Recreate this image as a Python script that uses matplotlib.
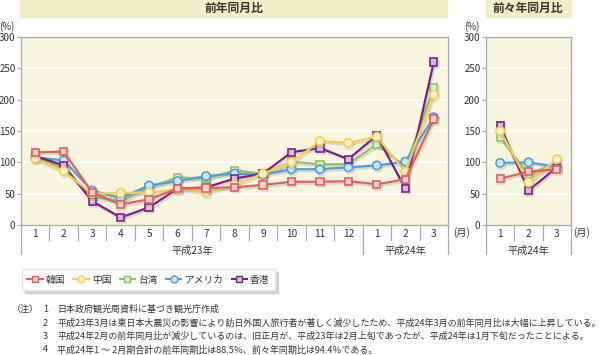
import matplotlib
matplotlib.use("Agg")
import matplotlib.pyplot as plt
import matplotlib.patheffects as pe
from matplotlib.lines import Line2D
from matplotlib.patches import Rectangle

plt.rcParams['font.family'] = ['Noto Sans CJK JP', 'DejaVu Sans']

# ---- data ----
months_left = ["1", "2", "3", "4", "5", "6", "7", "8", "9", "10", "11", "12", "1", "2", "3"]
months_right = ["1", "2", "3"]
series_names = ["韓国", "中国", "台湾", "アメリカ", "香港"]

korea = [116, 117, 52, 33, 41, 58, 59, 60, 64, 69, 69, 70, 65, 73, 169]
china = [106, 86, 50, 51, 52, 57, 52, 64, 82, 100, 134, 131, 141, 85, 208]
taiwan = [108, 90, 45, 38, 60, 76, 74, 87, 82, 101, 97, 97, 129, 93, 219]
america = [108, 103, 55, 43, 63, 70, 78, 82, 80, 89, 89, 92, 95, 101, 172]
hongkong = [110, 95, 38, 12, 28, 58, 60, 74, 82, 116, 123, 105, 143, 58, 260]

korea_r = [74, 85, 89]
china_r = [150, 68, 105]
taiwan_r = [140, 80, 100]
america_r = [99, 100, 93]
hongkong_r = [158, 55, 92]

yticks = [0, 50, 100, 150, 200, 250, 300]

colors = {"韓国": "#e0605e", "中国": "#f4d050", "台湾": "#90c264",
          "アメリカ": "#4b9fe0", "香港": "#7a1f88"}
faces = {"韓国": "#f7cfcf", "中国": "#fdf3c6", "台湾": "#dcefcb",
         "アメリカ": "#cfe5f8", "香港": "#d9b9df"}
markers = {"韓国": "s", "中国": "o", "台湾": "s", "アメリカ": "o", "香港": "s"}
msize = {"s": 5.2, "o": 6.0}

left_data = {"韓国": korea, "中国": china, "台湾": taiwan, "アメリカ": america, "香港": hongkong}
right_data = {"韓国": korea_r, "中国": china_r, "台湾": taiwan_r, "アメリカ": america_r, "香港": hongkong_r}
draw_order = ["台湾", "アメリカ", "香港", "中国", "韓国"]

W, H = 602, 355
fig = plt.figure(figsize=(W / 100, H / 100), dpi=100)

bg = "#f8f6de"
spine_c = "#a8a8a8"
txt_c = "#333333"

def px_axes(x0, x1, ytop, ybot):
    return fig.add_axes([x0 / W, 1 - ybot / H, (x1 - x0) / W, (ybot - ytop) / H])

def style_axes(ax, labels, long_bounds, year_labels):
    n = len(labels)
    ax.set_facecolor(bg)
    ax.set_xlim(-0.5, n - 0.5)
    ax.set_ylim(0, 300)
    ax.set_yticks(yticks)
    ax.set_yticklabels([str(v) for v in yticks], fontsize=7, color=txt_c)
    ax.tick_params(axis='y', length=3, color=spine_c, pad=1)
    ax.set_xticks(range(n))
    ax.set_xticklabels(labels, fontsize=7.3, color=txt_c)
    ax.tick_params(axis='x', length=0, pad=3)
    for s in ax.spines.values():
        s.set_color(spine_c)
        s.set_linewidth(0.9)
    for v in yticks[1:-1]:
        ax.axhline(v, color="white", lw=1.2, zorder=0.5)
    tr = ax.get_xaxis_transform()
    hax = ax.get_position().height * H
    short = -15 / hax
    long_ = -29 / hax
    for b in range(n + 1):
        xb = b - 0.5
        y2 = long_ if b in long_bounds else short
        ax.plot([xb, xb], [0, y2], transform=tr, color=spine_c, lw=0.9,
                clip_on=False, zorder=5)
    for (xc, text) in year_labels:
        ax.text(xc, -26 / hax, text, transform=tr, ha="center", va="center",
                fontsize=7.3, color=txt_c)

def plot_series(ax, data):
    for name in draw_order:
        vals = data[name]
        m = markers[name]
        ax.plot(range(len(vals)), vals, color=colors[name], lw=1.6,
                marker=m, markersize=msize[m], markerfacecolor=faces[name],
                markeredgecolor=colors[name], markeredgewidth=1.2, zorder=3,
                path_effects=[pe.SimpleLineShadow(offset=(1, -1.5), shadow_color="#888888", alpha=0.25),
                              pe.Normal()])

# left chart
ax1 = px_axes(21, 448, 37, 225)
style_axes(ax1, months_left, {0, 12, 15}, [(5.5, "平成23年"), (13, "平成24年")])
plot_series(ax1, left_data)

# right chart
ax2 = px_axes(486, 571, 37, 225)
style_axes(ax2, months_right, {0, 3}, [(1, "平成24年")])
plot_series(ax2, right_data)

# units
fig.text(7 / W, 1 - 27 / H, "(%)", fontsize=7, color=txt_c, ha="center", va="center")
fig.text(472 / W, 1 - 27 / H, "(%)", fontsize=7, color=txt_c, ha="center", va="center")
fig.text(462 / W, 1 - 233 / H, "(月)", fontsize=7.3, color=txt_c, ha="center", va="center")
fig.text(582 / W, 1 - 233 / H, "(月)", fontsize=7.3, color=txt_c, ha="center", va="center")

# title bands
band_c = "#f0eec6"
fig.patches.append(Rectangle((20 / W, 1 - 17 / H), (447 - 20) / W, 17 / H,
                             transform=fig.transFigure, color=band_c, zorder=0))
fig.patches.append(Rectangle((486 / W, 1 - 17 / H), (571 - 486) / W, 17 / H,
                             transform=fig.transFigure, color=band_c, zorder=0))
fig.text(234 / W, 1 - 8.5 / H, "前年同月比", fontsize=8.5, fontweight="bold",
         color=txt_c, ha="center", va="center")
fig.text(528 / W, 1 - 8.5 / H, "前々年同月比", fontsize=8.5, fontweight="bold",
         color=txt_c, ha="center", va="center")

# legend
handles = []
for name in series_names:
    m = markers[name]
    handles.append(Line2D([], [], color=colors[name], lw=1.5, marker=m,
                          markersize=msize[m] - 1.0, markerfacecolor=faces[name],
                          markeredgecolor=colors[name], markeredgewidth=1.0))
leg = fig.legend(handles, series_names, loc="center left",
                 bbox_to_anchor=(17 / W, 1 - 279.5 / H), ncol=5, fontsize=7,
                 frameon=True, fancybox=False,
                 shadow={"color": "#bbbbbb", "alpha": 0.6},
                 handlelength=1.6, handletextpad=0.3, columnspacing=0.85,
                 borderpad=0.55, edgecolor="#e4e4e4")
for t in leg.get_texts():
    t.set_color(txt_c)

# notes
notes = [
    ("（注）", "1", "日本政府観光局資料に基づき観光庁作成"),
    ("", "2", "平成23年3月は東日本大震災の影響により訪日外国人旅行者が著しく減少したため、平成24年3月の前年同月比は大幅に上昇している。"),
    ("", "3", "平成24年2月の前年同月比が減少しているのは、旧正月が、平成23年は2月上旬であったが、平成24年は1月下旬だったことによる。"),
    ("", "4", "平成24年1 ～ 2月期合計の前年同期比は88.5％、前々年同期比は94.4％である。"),
]
ys = [309, 323, 336.5, 350]
for (pre, num, text), y in zip(notes, ys):
    if pre:
        fig.text(12 / W, 1 - y / H, pre, fontsize=6.5, color=txt_c, va="center")
    fig.text(43 / W, 1 - y / H, num, fontsize=6.5, color=txt_c, va="center")
    fig.text(57 / W, 1 - y / H, text, fontsize=6.5, color=txt_c, va="center")

fig.savefig("out.png", dpi=100)
